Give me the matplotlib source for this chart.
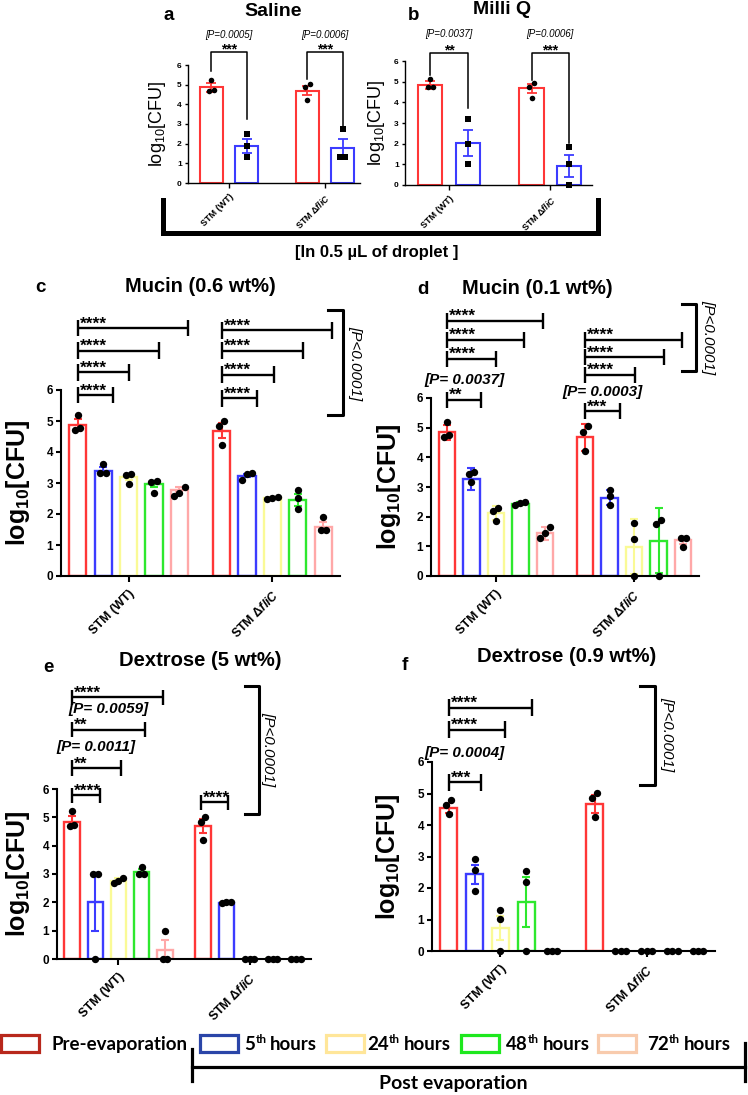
import re
import numpy as np
import matplotlib
matplotlib.use('Agg')
from matplotlib import pyplot as plt
from matplotlib.patches import Rectangle

W, H = 748, 1095

plt.rcParams['font.family'] = ['Liberation Sans', 'DejaVu Sans']
plt.rcParams['font.weight'] = 'bold'
plt.rcParams['mathtext.fontset'] = 'custom'
plt.rcParams['mathtext.rm'] = 'Liberation Sans:bold'
plt.rcParams['mathtext.it'] = 'Liberation Sans:italic:bold'
plt.rcParams['mathtext.bf'] = 'Liberation Sans:bold'

# ---- data (log10 CFU) ----
groups = ['STM (WT)', r'STM $\mathit{\Delta fliC}$']
legend_labels = ['Pre-evaporation', '5th hours', '24th hours', '48th hours', '72th hours']

# a / b : [group][pre, 5h]
saline_mean = [[4.86, 1.88], [4.70, 1.78]]
saline_err = [[0.21, 0.36], [0.23, 0.48]]
saline_pts = [[[4.70, 5.24, 4.73], [2.50, 1.86, 1.32]],
              [[5.03, 4.22, 4.86], [2.75, 1.32, 1.32]]]
milliq_mean = [[4.85, 2.04], [4.67, 0.93]]
milliq_err = [[0.19, 0.62], [0.22, 0.54]]
milliq_pts = [[[4.73, 5.13, 4.73], [3.19, 2.00, 1.02]],
              [[4.95, 4.23, 4.76], [1.85, 1.02, 0.00]]]

# c-f : [group][pre, 5h, 24h, 48h, 72h]
mucin06_mean = [[4.87, 3.40, 3.20, 2.98, 2.79], [4.69, 3.24, 2.52, 2.45, 1.58]]
mucin06_err = [[0.20, 0.11, 0.10, 0.10, 0.09], [0.25, 0.06, 0.03, 0.20, 0.15]]
mucin06_pts = [[[4.71, 5.19, 4.76], [3.31, 3.62, 3.31], [3.29, 2.98, 3.25], [3.06, 2.69, 3.02], [2.88, 2.58, 2.69]],
               [[5.01, 4.22, 4.84], [3.11, 3.33, 3.29], [2.48, 2.55, 2.53], [2.77, 2.16, 2.53], [1.90, 1.47, 1.47]]]

mucin01_mean = [[4.84, 3.27, 2.12, 2.43, 1.44], [4.67, 2.64, 0.99, 1.19, 1.20]]
mucin01_err = [[0.25, 0.37, 0.23, 0.05, 0.21], [0.46, 0.26, 0.92, 1.09, 0.12]]
mucin01_pts = [[[5.18, 4.68, 4.76], [3.51, 3.18, 3.43], [2.29, 1.84, 2.20], [2.40, 2.49, 2.45], [1.66, 1.27, 1.44]],
               [[5.05, 4.20, 4.84], [2.91, 2.40, 2.68], [1.78, 1.24, 0.00], [1.89, 0.00, 1.74], [1.27, 0.99, 1.27]]]

dex5_mean = [[4.85, 2.00, 2.77, 3.08, 0.33], [4.68, 1.99, 0.0, 0.0, 0.0]]
dex5_err = [[0.20, 1.00, 0.08, 0.10, 0.33], [0.25, 0.02, 0.0, 0.0, 0.0]]
dex5_pts = [[[5.21, 4.68, 4.74], [3.00, 3.00, 0.00], [2.70, 2.85, 2.75], [3.01, 3.25, 3.01], [1.00, 0.00, 0.00]],
            [[5.01, 4.84, 4.20], [1.97, 2.00, 2.00], [0, 0, 0], [0, 0, 0], [0, 0, 0]]]

dex09_mean = [[4.53, 2.44, 0.74, 1.56, 0.0], [4.67, 0.0, 0.0, 0.0, 0.0]]
dex09_err = [[0.16, 0.30, 0.38, 0.80, 0.0], [0.29, 0.0, 0.0, 0.0, 0.0]]
dex09_pts = [[[4.78, 4.34, 4.64], [2.92, 2.57, 1.91], [1.30, 1.03, 0.00], [2.55, 2.18, 0.00], [0, 0, 0]],
             [[5.01, 4.85, 4.25], [0, 0, 0], [0, 0, 0], [0, 0, 0], [0, 0, 0]]]

bar_colors = ['#ff3636', '#3c3cff', '#fafa96', '#2ee82e', '#ffa8a8']
legend_colors = ['#b8281c', '#2a45a8', '#ffe699', '#1ee81e', '#f8cbad']

GAP = 5.65
GAP_AB = 2.7

fig = plt.figure(figsize=(W / 100, H / 100), dpi=100)


def px_axes(x0, y0, x1, y1):
    return fig.add_axes([x0 / W, 1 - y1 / H, (x1 - x0) / W, (y1 - y0) / H])


def swarm(vals, thr, dx):
    vals = np.asarray(vals, float)
    order = np.argsort(vals, kind='stable')
    offs = np.zeros(len(vals))
    grp = [[order[0]]]
    for i in order[1:]:
        if vals[i] - vals[grp[-1][-1]] < thr:
            grp[-1].append(i)
        else:
            grp.append([i])
    for g in grp:
        k = len(g)
        for j, idx in enumerate(g):
            offs[idx] = (j - (k - 1) / 2) * dx
    return offs


def style(ax, xlim, lw, tl, ylab_fs, ylab_w, xlab_fs, ytick_fs, ylab_px, width_px, xpad):
    ax.set_xlim(*xlim)
    ax.set_ylim(0, 6)
    ax.spines[['top', 'right']].set_visible(False)
    ax.spines[['left', 'bottom']].set_linewidth(lw)
    ax.set_yticks(range(7))
    ax.tick_params(axis='y', length=tl, width=lw, labelsize=ytick_fs, pad=2)
    ax.set_xticks([0, GAP if xlim[1] > 5 else GAP_AB])
    ax.set_xticklabels(groups, rotation=45, ha='right', rotation_mode='anchor',
                       fontsize=xlab_fs, fontweight='bold')
    ax.tick_params(axis='x', length=tl + 1, width=lw, pad=xpad)
    ax.set_ylabel(r'log$\mathregular{_{10}}$[CFU]', fontsize=ylab_fs, fontweight=ylab_w)
    ax.yaxis.set_label_coords(-ylab_px / width_px, 0.5)
    ax.set_facecolor('none')


def big_panel(ax, means, errs, pts, width_px, ylab_px):
    for g in range(2):
        for t in range(5):
            x = g * GAP + t - 2
            ax.bar(x, means[g][t], width=0.67, color='white', edgecolor=bar_colors[t],
                   linewidth=1.7, zorder=2)
            if errs[g][t] > 0:
                ax.errorbar(x, means[g][t], yerr=errs[g][t], fmt='none', ecolor=bar_colors[t],
                            elinewidth=1.5, capsize=3, capthick=1.5, zorder=3)
            off = swarm(pts[g][t], 0.22, 0.2)
            ax.scatter(x + off, pts[g][t], s=28, color='black', zorder=4, clip_on=False, linewidths=0)
    style(ax, (-2.65, 8.3), 1.5, 3.5, 18, 'bold', 9, 8.5, ylab_px, width_px, 4)


def sig(ax, x1, dx2, y, stars, ptxt=None, py=None, cap=0.27):
    x2 = x1 + dx2
    kw = dict(color='black', lw=1.7, clip_on=False, solid_capstyle='butt')
    ax.plot([x1, x1], [y - cap, y + cap], **kw)
    ax.plot([x2, x2], [y - cap, y + cap], **kw)
    ax.plot([x1, x2], [y, y], **kw)
    ax.text(x1 + 0.08, y - 0.01, stars, ha='left', va='baseline', fontsize=12.5, fontweight='bold')
    if ptxt:
        ax.text((x1 + x2) / 2, py, ptxt, ha='center', va='center', fontsize=11,
                fontweight='bold', style='italic')


def big_bracket(ax, xv, xt, y0, y1, xtxt, ytxt):
    ax.plot([xt, xv, xv, xt], [y1, y1, y0, y0], color='black', lw=2.2, clip_on=False)
    ax.text(xtxt, ytxt, '[P<0.0001]', rotation=270, ha='center', va='center', fontsize=11,
            style='italic', fontweight='normal')


def small_panel(ax, means, errs, pts, xlim, width_px, ylab_px):
    for g in range(2):
        for t in range(2):
            x = g * GAP_AB + t - 0.5
            ax.bar(x, means[g][t], width=0.65, color='white', edgecolor=bar_colors[t],
                   linewidth=1.5, zorder=2)
            ax.errorbar(x, means[g][t], yerr=errs[g][t], fmt='none', ecolor=bar_colors[t],
                        elinewidth=1.3, capsize=3.5, capthick=1.3, zorder=3)
            off = swarm(pts[g][t], 0.25, 0.14)
            ax.scatter(x + off, pts[g][t], s=16, color='black', marker='o' if t == 0 else 's',
                       zorder=4, clip_on=False, linewidths=0)
    style(ax, xlim, 1.0, 2.5, 13, 'normal', 6.5, 6, ylab_px, width_px, 3)


def ab_bracket(ax, g, yl, yr, ytop, stars, ptxt, ys, yp):
    xl, xr = g * GAP_AB - 0.5, g * GAP_AB + 0.5
    ax.plot([xl, xl, xr, xr], [yl, ytop, ytop, yr], color='black', lw=1.1, clip_on=False)
    ax.text((xl + xr) / 2, ys, stars, ha='center', va='center', fontsize=10, fontweight='bold')
    ax.text((xl + xr) / 2, yp, ptxt, ha='center', va='center', fontsize=7,
            fontweight='normal', style='italic')


# ---- panel a ----
axa = px_axes(188, 65, 360, 183)
small_panel(axa, saline_mean, saline_err, saline_pts, (-1.16, 3.69), 172, 20)
ab_bracket(axa, 0, 5.71, 3.26, 6.67, '***', '[P=0.0005]', 6.8, 7.55)
ab_bracket(axa, 1, 5.29, 2.90, 6.67, '***', '[P=0.0006]', 6.8, 7.55)

# ---- panel b ----
axb = px_axes(405, 61, 592, 185)
small_panel(axb, milliq_mean, milliq_err, milliq_pts, (-1.17, 3.81), 187, 18)
ab_bracket(axb, 0, 5.32, 3.71, 6.4, '**', '[P=0.0037]', 6.5, 7.29)
ab_bracket(axb, 1, 5.08, 2.02, 6.4, '***', '[P=0.0006]', 6.5, 7.29)

# ---- panel c ----
axc = px_axes(61, 390, 340, 576)
big_panel(axc, mucin06_mean, mucin06_err, mucin06_pts, 279, 29)
for d, y in zip([1.4, 2.03, 3.2, 4.32], [5.84, 6.57, 7.27, 8.0]):
    sig(axc, -2, d, y, '****')
for d, y in zip([1.41, 2.06, 3.21, 4.32], [5.73, 6.49, 7.27, 7.92]):
    sig(axc, GAP - 2, d, y, '****')
big_bracket(axc, 8.41, 7.82, 5.19, 8.57, 8.9, 6.86)

# ---- panel d ----
axd = px_axes(431, 398, 699, 576)
big_panel(axd, mucin01_mean, mucin01_err, mucin01_pts, 268, 28)
sig(axd, -2, 1.41, 5.94, '**', '[P= 0.0037]', 6.6)
for d, y in zip([2.0, 3.16, 3.94], [7.32, 7.96, 8.61]):
    sig(axd, -2, d, y, '****')
sig(axd, GAP - 2, 1.41, 5.55, '***', '[P= 0.0003]', 6.19)
for d, y in zip([2.05, 3.21, 3.97], [6.79, 7.37, 7.97]):
    sig(axd, GAP - 2, d, y, '****')
big_bracket(axd, 8.16, 7.62, 6.9, 9.18, 8.68, 8.05)

# ---- panel e ----
axe = px_axes(57, 789, 311, 959)
big_panel(axe, dex5_mean, dex5_err, dex5_pts, 254, 25)
sig(axe, -2, 1.2, 5.78, '****')
sig(axe, -2, 2.09, 6.74, '**', '[P= 0.0011]', 7.47)
sig(axe, -2, 3.15, 8.09, '**', '[P= 0.0059]', 8.82)
sig(axe, -2, 3.9, 9.24, '****')
sig(axe, GAP - 2.08, 1.17, 5.53, '****')
big_bracket(axe, 6.06, 5.47, 5.12, 9.62, 6.47, 7.4)

# ---- panel f ----
axf = px_axes(432, 762, 715, 951)
big_panel(axf, dex09_mean, dex09_err, dex09_pts, 283, 30)
sig(axf, -2, 1.25, 5.35, '***', '[P= 0.0004]', 6.3)
sig(axf, -2, 2.16, 7.03, '****')
sig(axf, -2, 3.23, 7.72, '****')
big_bracket(axf, 5.98, 5.39, 5.28, 8.41, 6.45, 6.9)

# ---- overlay in pixel coordinates ----
ov = fig.add_axes([0, 0, 1, 1])
ov.set_xlim(0, W)
ov.set_ylim(H, 0)
ov.axis('off')

titles = [('a', 169, 15, 'Saline', 273, 12, 14),
          ('b', 414, 15, 'Milli Q', 502, 10, 14),
          ('c', 40, 287, 'Mucin (0.6 wt%)', 200, 287, 14.5),
          ('d', 423, 289, 'Mucin (0.1 wt%)', 537, 289, 14.5),
          ('e', 48, 667, 'Dextrose (5 wt%)', 200, 661, 14.5),
          ('f', 405, 665, 'Dextrose (0.9 wt%)', 567, 657, 14.5)]
for let, lx, ly, tt, tx, ty, fs in titles:
    ov.text(lx, ly, let, ha='center', va='center', fontsize=13.5, fontweight='bold')
    ov.text(tx, ty, tt, ha='center', va='center', fontsize=fs, fontweight='bold')

ov.plot([163, 163, 598, 598], [200, 233, 233, 200], color='black', lw=3.6, solid_joinstyle='miter')
ov.text(377, 253, '[In 0.5 µL of droplet ]', ha='center', va='center', fontsize=12, fontweight='bold')

# legend
renderer = fig.canvas.get_renderer()
box_x = [1, 200, 326, 461, 598]
txt_x = [52, 244, 367, 506, 647]
lfont = dict(family=['Lato', 'DejaVu Sans'], fontweight='bold')
for lab, c, bx, tx in zip(legend_labels, legend_colors, box_x, txt_x):
    ov.add_patch(Rectangle((bx, 1035), 38, 17, fill=False, edgecolor=c, lw=2.3))
    m = re.match(r'^(\d+)(th) (.*)$', lab)
    if m is None:
        ov.text(tx, 1050, lab, ha='left', va='baseline', fontsize=13.5, **lfont)
        continue
    t1 = ov.text(tx, 1050, m.group(1), ha='left', va='baseline', fontsize=13.5, **lfont)
    x = t1.get_window_extent(renderer).x1
    t2 = ov.text(x + 0.5, 1043, m.group(2), ha='left', va='baseline', fontsize=8.5, **lfont)
    x = t2.get_window_extent(renderer).x1
    ov.text(x + 4, 1050, m.group(3), ha='left', va='baseline', fontsize=13.5, **lfont)

ov.plot([192, 192], [1049, 1081], color='black', lw=2.3)
ov.plot([192, 745], [1067, 1067], color='black', lw=2.3)
ov.plot([745, 745], [1043, 1081], color='black', lw=2.3)
ov.text(379, 1083, 'Post evaporation', ha='left', va='center', fontsize=14, **lfont)

fig.savefig('out.png', dpi=100)
